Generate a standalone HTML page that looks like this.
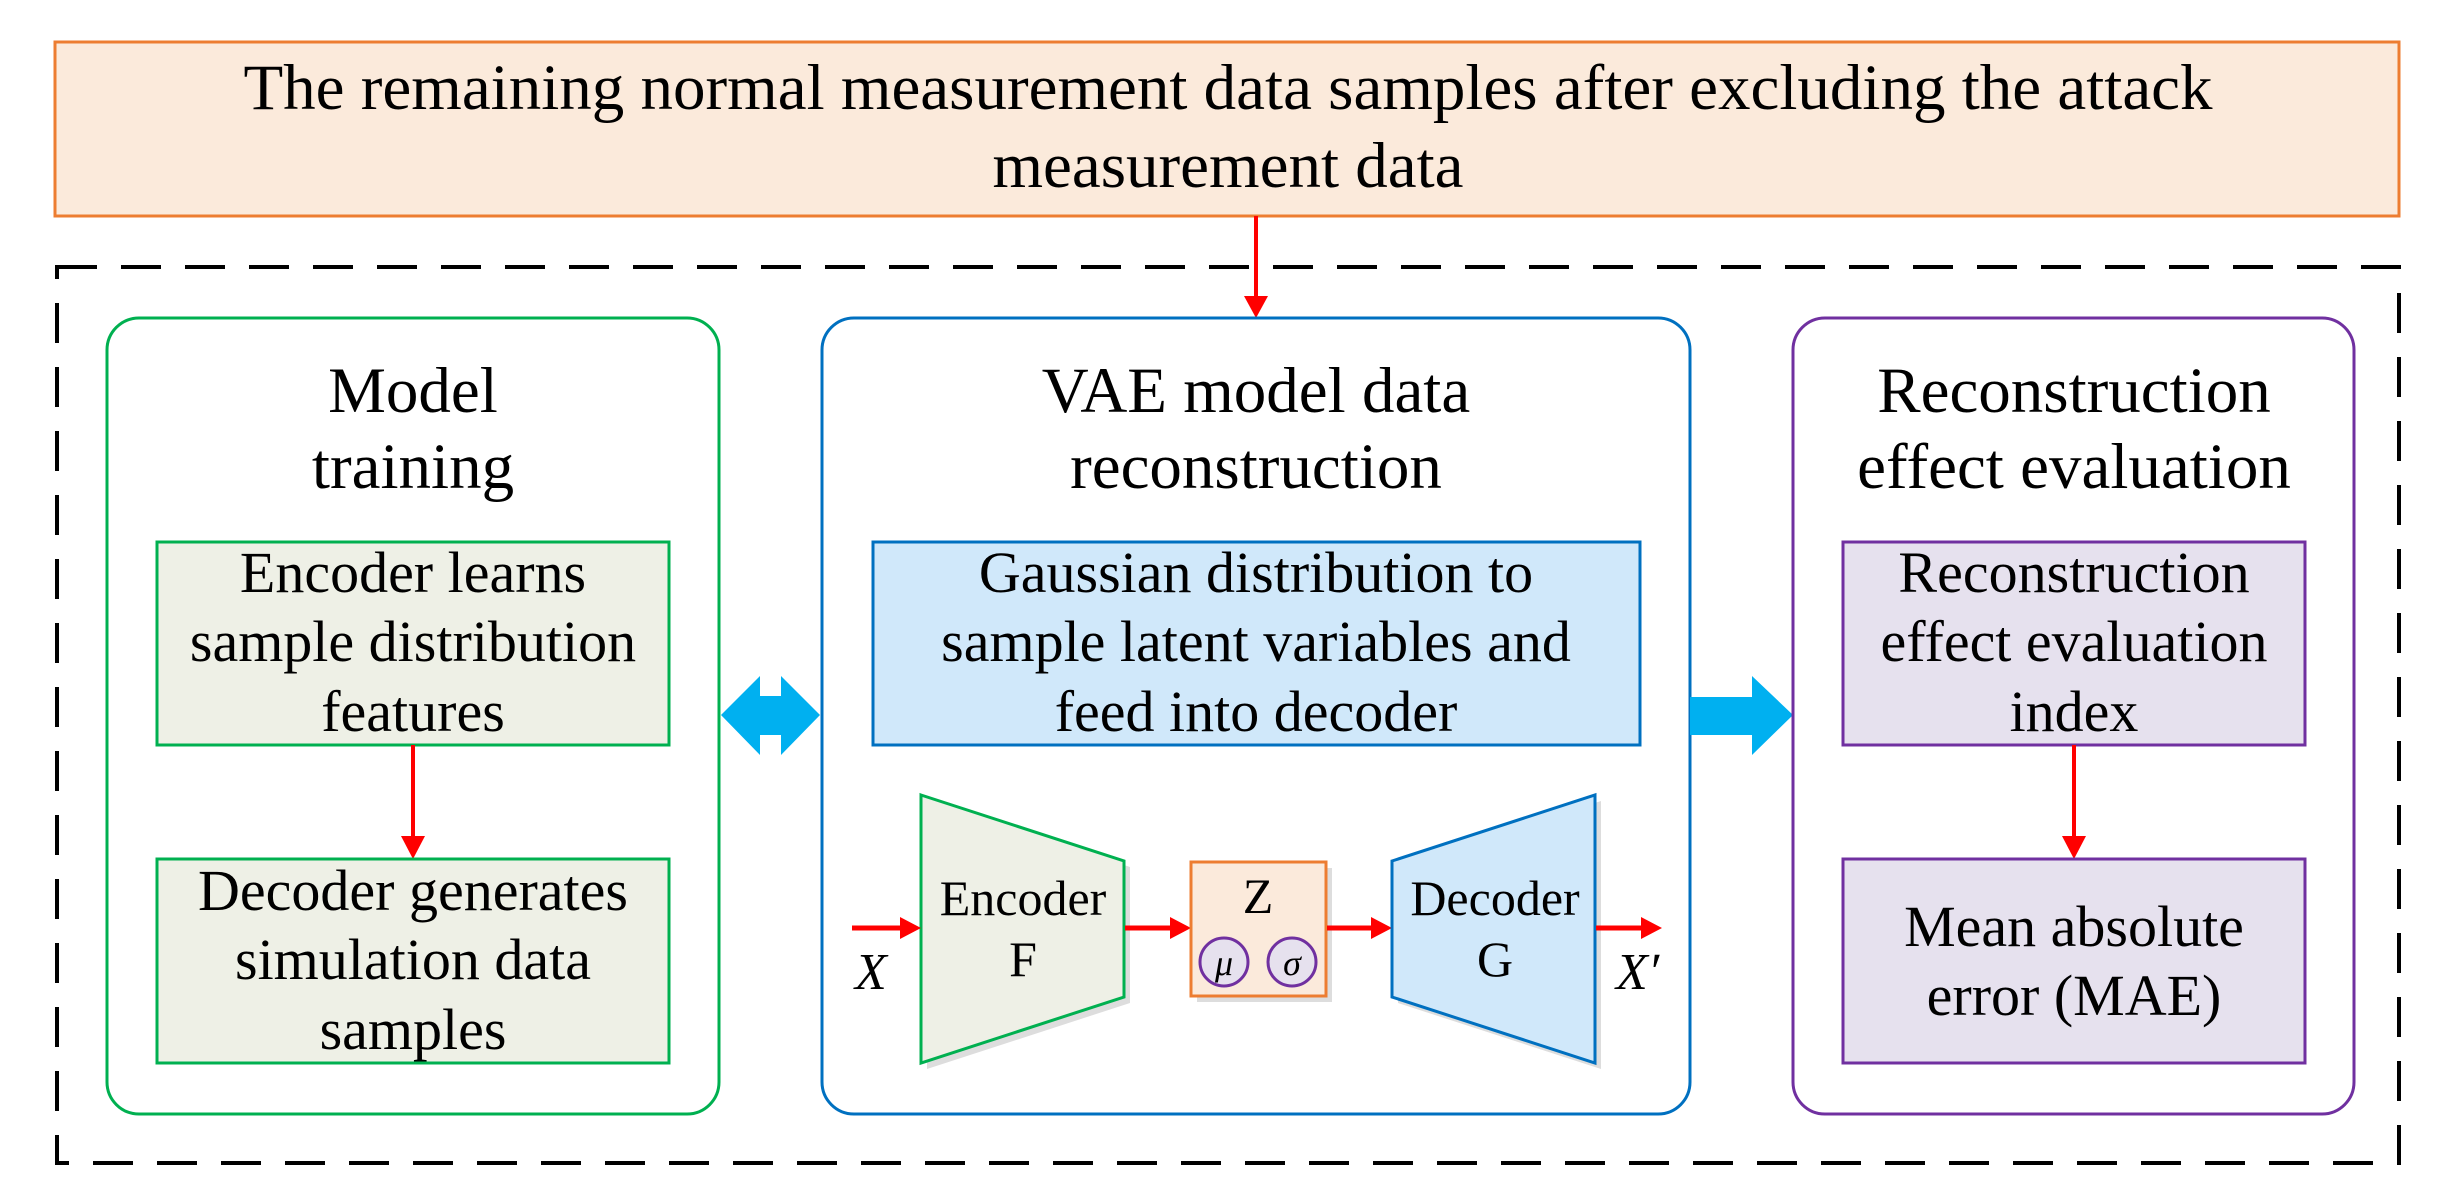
<!DOCTYPE html>
<html><head><meta charset="utf-8"><style>
html,body{margin:0;padding:0;background:#fff;}
svg{display:block;}
text{font-family:"Liberation Serif",serif;fill:#000;}
</style></head><body>
<svg width="2443" height="1195" viewBox="0 0 2443 1195" xmlns="http://www.w3.org/2000/svg">
<!-- top box -->
<rect x="55" y="42" width="2344" height="174" fill="#fbeadb" stroke="#ed7d31" stroke-width="3"/>
<text x="1228" y="109" font-size="65" text-anchor="middle">The remaining normal measurement data samples after excluding the attack</text>
<text x="1228" y="187" font-size="65" text-anchor="middle">measurement data</text>
<!-- dashed -->
<rect x="57" y="267" width="2342" height="896" fill="none" stroke="#000" stroke-width="4" stroke-dasharray="40,24"/>
<!-- top red arrow -->
<line x1="1256" y1="216" x2="1256" y2="298" stroke="#f00" stroke-width="4"/>
<polygon points="1244,296 1268,296 1256,318" fill="#f00"/>
<!-- green panel -->
<rect x="107" y="318" width="612" height="796" rx="32" fill="#fff" stroke="#00b050" stroke-width="3"/>
<text x="413" y="412" font-size="65" text-anchor="middle">Model</text>
<text x="413" y="488" font-size="65" text-anchor="middle">training</text>
<rect x="157" y="542" width="512" height="203" fill="#eef0e6" stroke="#00b050" stroke-width="3"/>
<text x="413" y="592" font-size="58" text-anchor="middle">Encoder learns</text>
<text x="413" y="661" font-size="58" text-anchor="middle">sample distribution</text>
<text x="413" y="731" font-size="58" text-anchor="middle">features</text>
<line x1="413" y1="745" x2="413" y2="840" stroke="#f00" stroke-width="4"/>
<polygon points="401,836 425,836 413,859" fill="#f00"/>
<rect x="157" y="859" width="512" height="204" fill="#eef0e6" stroke="#00b050" stroke-width="3"/>
<text x="413" y="910" font-size="58" text-anchor="middle">Decoder generates</text>
<text x="413" y="979" font-size="58" text-anchor="middle">simulation data</text>
<text x="413" y="1049" font-size="58" text-anchor="middle">samples</text>
<!-- double arrow -->
<polygon points="721,715 760,676 760,696 781,696 781,676 820,715 781,755 781,735 760,735 760,755" fill="#00b0f0"/>
<!-- blue panel -->
<rect x="822" y="318" width="868" height="796" rx="32" fill="#fff" stroke="#0070c0" stroke-width="3"/>
<text x="1256" y="412" font-size="65" text-anchor="middle">VAE model data</text>
<text x="1256" y="488" font-size="65" text-anchor="middle">reconstruction</text>
<rect x="873" y="542" width="767" height="203" fill="#d0e8fa" stroke="#0070c0" stroke-width="3"/>
<text x="1256" y="592" font-size="58" text-anchor="middle">Gaussian distribution to</text>
<text x="1256" y="661" font-size="58" text-anchor="middle">sample latent variables and</text>
<text x="1256" y="731" font-size="58" text-anchor="middle">feed into decoder</text>
<!-- encoder trapezoid -->
<polygon points="927,801 1130,867 1130,1003 927,1069" fill="#ddd"/>
<polygon points="921,795 1124,861 1124,997 921,1063" fill="#eef0e6" stroke="#00b050" stroke-width="3"/>
<text x="1023" y="915" font-size="50" text-anchor="middle">Encoder</text>
<text x="1023" y="976" font-size="50" text-anchor="middle">F</text>
<!-- X arrow -->
<line x1="852" y1="928" x2="903" y2="928" stroke="#f00" stroke-width="5"/>
<polygon points="900,917 921,928 900,939" fill="#f00"/>
<text x="855" y="989" font-size="52" font-style="italic">X</text>
<!-- enc->Z -->
<line x1="1125" y1="928" x2="1173" y2="928" stroke="#f00" stroke-width="5"/>
<polygon points="1170,917 1191,928 1170,939" fill="#f00"/>
<!-- Z box -->
<rect x="1197" y="868" width="135" height="134" fill="#ddd"/>
<rect x="1191" y="862" width="135" height="134" fill="#fbeadb" stroke="#ed7d31" stroke-width="3"/>
<text x="1258" y="913" font-size="50" text-anchor="middle">Z</text>
<circle cx="1224" cy="962" r="24" fill="#e6e1ee" stroke="#7030a0" stroke-width="3"/>
<circle cx="1292" cy="962" r="24" fill="#e6e1ee" stroke="#7030a0" stroke-width="3"/>
<text x="1224" y="975" font-size="36" font-style="italic" text-anchor="middle">μ</text>
<text x="1292" y="975" font-size="36" font-style="italic" text-anchor="middle">σ</text>
<!-- Z->dec -->
<line x1="1327" y1="928" x2="1374" y2="928" stroke="#f00" stroke-width="5"/>
<polygon points="1371,917 1392,928 1371,939" fill="#f00"/>
<!-- decoder -->
<polygon points="1398,867 1601,801 1601,1069 1398,1003" fill="#ddd"/>
<polygon points="1392,861 1595,795 1595,1063 1392,997" fill="#d0e8fa" stroke="#0070c0" stroke-width="3"/>
<text x="1495" y="915" font-size="50" text-anchor="middle">Decoder</text>
<text x="1495" y="976" font-size="50" text-anchor="middle">G</text>
<line x1="1596" y1="928" x2="1644" y2="928" stroke="#f00" stroke-width="5"/>
<polygon points="1641,917 1662,928 1641,939" fill="#f00"/>
<text x="1616" y="989" font-size="52" font-style="italic">X′</text>
<!-- big arrow -->
<polygon points="1690,697 1752,697 1752,676 1793,715 1752,755 1752,735 1690,735" fill="#00b0f0"/>
<!-- purple panel -->
<rect x="1793" y="318" width="561" height="796" rx="32" fill="#fff" stroke="#7030a0" stroke-width="3"/>
<text x="2074" y="412" font-size="65" text-anchor="middle">Reconstruction</text>
<text x="2074" y="488" font-size="65" text-anchor="middle">effect evaluation</text>
<rect x="1843" y="542" width="462" height="203" fill="#e6e1ee" stroke="#7030a0" stroke-width="3"/>
<text x="2074" y="592" font-size="58" text-anchor="middle">Reconstruction</text>
<text x="2074" y="661" font-size="58" text-anchor="middle">effect evaluation</text>
<text x="2074" y="731" font-size="58" text-anchor="middle">index</text>
<line x1="2074" y1="745" x2="2074" y2="840" stroke="#f00" stroke-width="4"/>
<polygon points="2062,836 2086,836 2074,859" fill="#f00"/>
<rect x="1843" y="859" width="462" height="204" fill="#e6e1ee" stroke="#7030a0" stroke-width="3"/>
<text x="2074" y="946" font-size="58" text-anchor="middle">Mean absolute</text>
<text x="2074" y="1015" font-size="58" text-anchor="middle">error (MAE)</text>
</svg>
</body></html>
